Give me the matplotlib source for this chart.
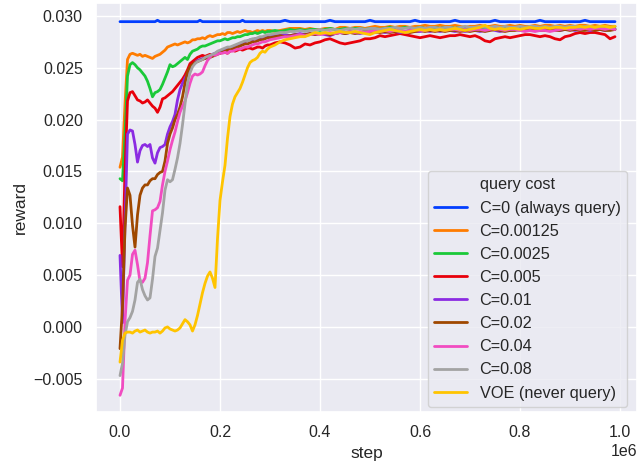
import numpy as np
import matplotlib
matplotlib.use("Agg")
import matplotlib.pyplot as plt
import seaborn as sns
from matplotlib.lines import Line2D

# steps: fine resolution for the first 0.3M steps, coarser afterwards
steps = np.concatenate([np.arange(0, 300000, 5000), np.arange(300000, 1000000, 10000)])

labels = ["C=0 (always query)", "C=0.00125", "C=0.0025", "C=0.005", "C=0.01",
          "C=0.02", "C=0.04", "C=0.08", "VOE (never query)"]
legend_title = "query cost"

c0 = [
    0.02945, 0.02945, 0.02945, 0.02945, 0.02945, 0.02945, 0.02945, 0.02945, 0.02945, 0.02945,
    0.02945, 0.02945, 0.02945, 0.02945, 0.02945, 0.02958, 0.02945, 0.02945, 0.02945, 0.02945,
    0.02945, 0.02945, 0.02945, 0.02945, 0.02945, 0.02945, 0.02945, 0.02945, 0.02945, 0.02945,
    0.02945, 0.02945, 0.02958, 0.02945, 0.02945, 0.02945, 0.02945, 0.02945, 0.02945, 0.02945,
    0.02945, 0.02945, 0.02945, 0.02945, 0.02945, 0.02945, 0.02945, 0.02945, 0.02945, 0.02958,
    0.02945, 0.02945, 0.02945, 0.02945, 0.02945, 0.02945, 0.02945, 0.02945, 0.02945, 0.02945,
    0.02945, 0.02945, 0.02945, 0.02958, 0.02945, 0.02945, 0.02945, 0.02945, 0.02945, 0.02945,
    0.02945, 0.02945, 0.02958, 0.02945, 0.02945, 0.02945, 0.02945, 0.02945, 0.02945, 0.02945,
    0.02958, 0.02945, 0.02945, 0.02945, 0.02945, 0.02945, 0.02945, 0.02945, 0.02945, 0.02958,
    0.02945, 0.02945, 0.02945, 0.02945, 0.02945, 0.02945, 0.02945, 0.02958, 0.02945, 0.02945,
    0.02945, 0.02945, 0.02945, 0.02945, 0.02945, 0.02958, 0.02945, 0.02945, 0.02945, 0.02945,
    0.02945, 0.02945, 0.02945, 0.02945, 0.02958, 0.02945, 0.02945, 0.02945, 0.02945, 0.02945,
    0.02945, 0.02945, 0.02945, 0.02958, 0.02945, 0.02945, 0.02945, 0.02945, 0.02945, 0.02945,
]
c00125 = [
    0.0154, 0.0164, 0.0215, 0.0258, 0.0263, 0.0264, 0.0263, 0.0262, 0.0263, 0.0261,
    0.0262, 0.0261, 0.0260, 0.0259, 0.0261, 0.0262, 0.0263, 0.0265, 0.0267, 0.0270,
    0.0271, 0.0272, 0.0273, 0.0272, 0.0273, 0.0274, 0.0275, 0.0274, 0.0275, 0.0277,
    0.0277, 0.0278, 0.0278, 0.0279, 0.0278, 0.0280, 0.0281, 0.0280, 0.0281, 0.0282,
    0.0282, 0.0283, 0.0282, 0.0284, 0.0284, 0.0283, 0.0284, 0.0285, 0.0284, 0.0285,
    0.0286, 0.0285, 0.0285, 0.0284, 0.0285, 0.0286, 0.0285, 0.0286, 0.0285, 0.0286,
    0.0286, 0.0285, 0.0286, 0.0287, 0.0288, 0.0288, 0.0288, 0.0287, 0.0288, 0.0287,
    0.0287, 0.0288, 0.0288, 0.0287, 0.0289, 0.0289, 0.0288, 0.0289, 0.0289, 0.0288,
    0.0289, 0.0290, 0.0289, 0.0289, 0.0290, 0.0289, 0.0290, 0.0290, 0.0289, 0.0290,
    0.0290, 0.0291, 0.0290, 0.0290, 0.0291, 0.0290, 0.0290, 0.0291, 0.0290, 0.0289,
    0.0290, 0.0290, 0.0291, 0.0290, 0.0290, 0.0291, 0.0290, 0.0290, 0.0291, 0.0290,
    0.0291, 0.0290, 0.0290, 0.0291, 0.0290, 0.0291, 0.0291, 0.0290, 0.0291, 0.0290,
    0.0291, 0.0290, 0.0291, 0.0291, 0.0290, 0.0291, 0.0290, 0.0291, 0.0290, 0.0290,
]
c0025 = [
    0.0143, 0.0141, 0.0185, 0.0242, 0.0253, 0.0255, 0.0253, 0.0250, 0.0248, 0.0245,
    0.0242, 0.0237, 0.0230, 0.0222, 0.0226, 0.0227, 0.0229, 0.0234, 0.0240, 0.0246,
    0.0253, 0.0251, 0.0252, 0.0254, 0.0256, 0.0258, 0.0260, 0.0258, 0.0263, 0.0266,
    0.0267, 0.0268, 0.0270, 0.0271, 0.0271, 0.0272, 0.0273, 0.0274, 0.0275, 0.0276,
    0.0276, 0.0277, 0.0278, 0.0277, 0.0278, 0.0279, 0.0279, 0.0280, 0.0280, 0.0281,
    0.0282, 0.0282, 0.0283, 0.0283, 0.0284, 0.0283, 0.0284, 0.0285, 0.0284, 0.0285,
    0.0285, 0.0286, 0.0285, 0.0286, 0.0287, 0.0286, 0.0287, 0.0286, 0.0287, 0.0287,
    0.0286, 0.0287, 0.0288, 0.0287, 0.0287, 0.0288, 0.0287, 0.0288, 0.0288, 0.0287,
    0.0288, 0.0288, 0.0287, 0.0288, 0.0289, 0.0288, 0.0288, 0.0289, 0.0288, 0.0288,
    0.0289, 0.0288, 0.0288, 0.0289, 0.0288, 0.0289, 0.0289, 0.0288, 0.0289, 0.0288,
    0.0288, 0.0289, 0.0288, 0.0287, 0.0288, 0.0289, 0.0288, 0.0289, 0.0288, 0.0289,
    0.0288, 0.0289, 0.0289, 0.0288, 0.0289, 0.0288, 0.0289, 0.0288, 0.0287, 0.0288,
    0.0289, 0.0288, 0.0289, 0.0288, 0.0289, 0.0288, 0.0289, 0.0288, 0.0287, 0.0288,
]
c005 = [
    0.0116, 0.0058, 0.0150, 0.0218, 0.0226, 0.0227, 0.0223, 0.0219, 0.0218, 0.0216,
    0.0217, 0.0219, 0.0216, 0.0213, 0.0211, 0.0207, 0.0212, 0.0220, 0.0221, 0.0223,
    0.0225, 0.0227, 0.0230, 0.0233, 0.0236, 0.0239, 0.0243, 0.0248, 0.0254, 0.0256,
    0.0258, 0.0260, 0.0261, 0.0262, 0.0261, 0.0262, 0.0263, 0.0262, 0.0263, 0.0264,
    0.0264, 0.0265, 0.0265, 0.0264, 0.0266, 0.0267, 0.0266, 0.0267, 0.0268, 0.0267,
    0.0268, 0.0269, 0.0269, 0.0268, 0.0269, 0.0270, 0.0270, 0.0269, 0.0271, 0.0272,
    0.0272, 0.0274, 0.0275, 0.0274, 0.0272, 0.0269, 0.0270, 0.0273, 0.0272, 0.0274,
    0.0275, 0.0277, 0.0278, 0.0276, 0.0274, 0.0273, 0.0274, 0.0275, 0.0276, 0.0278,
    0.0278, 0.0279, 0.0281, 0.0280, 0.0281, 0.0282, 0.0283, 0.0282, 0.0281, 0.0280,
    0.0279, 0.0280, 0.0281, 0.0280, 0.0279, 0.0280, 0.0281, 0.0281, 0.0282, 0.0281,
    0.0280, 0.0281, 0.0279, 0.0276, 0.0275, 0.0278, 0.0279, 0.0280, 0.0279, 0.0280,
    0.0281, 0.0282, 0.0282, 0.0281, 0.0280, 0.0281, 0.0280, 0.0278, 0.0277, 0.0280,
    0.0281, 0.0283, 0.0284, 0.0283, 0.0284, 0.0284, 0.0283, 0.0282, 0.0278, 0.0280,
]
c001 = [
    0.0069, 0.0004, 0.0100, 0.0186, 0.0190, 0.0189, 0.0176, 0.0159, 0.0170, 0.0175,
    0.0176, 0.0174, 0.0176, 0.0163, 0.0158, 0.0168, 0.0173, 0.0174, 0.0176, 0.0186,
    0.0193, 0.0198, 0.0205, 0.0219, 0.0229, 0.0235, 0.0240, 0.0244, 0.0248, 0.0252,
    0.0255, 0.0257, 0.0258, 0.0259, 0.0259, 0.0260, 0.0261, 0.0263, 0.0264, 0.0265,
    0.0266, 0.0267, 0.0268, 0.0268, 0.0269, 0.0270, 0.0271, 0.0272, 0.0273, 0.0274,
    0.0275, 0.0276, 0.0277, 0.0277, 0.0278, 0.0278, 0.0279, 0.0279, 0.0280, 0.0280,
    0.0280, 0.0281, 0.0281, 0.0282, 0.0281, 0.0282, 0.0283, 0.0282, 0.0283, 0.0282,
    0.0283, 0.0282, 0.0281, 0.0283, 0.0284, 0.0283, 0.0284, 0.0284, 0.0283, 0.0284,
    0.0285, 0.0284, 0.0285, 0.0284, 0.0285, 0.0285, 0.0284, 0.0285, 0.0286, 0.0285,
    0.0285, 0.0286, 0.0285, 0.0286, 0.0285, 0.0286, 0.0286, 0.0285, 0.0286, 0.0285,
    0.0286, 0.0286, 0.0285, 0.0286, 0.0287, 0.0286, 0.0285, 0.0286, 0.0286, 0.0287,
    0.0286, 0.0286, 0.0287, 0.0286, 0.0286, 0.0287, 0.0286, 0.0287, 0.0286, 0.0287,
    0.0287, 0.0286, 0.0287, 0.0287, 0.0286, 0.0287, 0.0287, 0.0286, 0.0287, 0.0287,
]
c002 = [
    -0.0021, 0.0020, 0.0095, 0.0134, 0.0127, 0.0098, 0.0077, 0.0108, 0.0127, 0.0134,
    0.0137, 0.0137, 0.0141, 0.0143, 0.0143, 0.0147, 0.0149, 0.0150, 0.0160, 0.0177,
    0.0186, 0.0192, 0.0200, 0.0205, 0.0212, 0.0222, 0.0235, 0.0246, 0.0251, 0.0253,
    0.0255, 0.0256, 0.0257, 0.0258, 0.0259, 0.0260, 0.0260, 0.0261, 0.0262, 0.0263,
    0.0264, 0.0265, 0.0266, 0.0267, 0.0268, 0.0268, 0.0269, 0.0270, 0.0271, 0.0272,
    0.0273, 0.0273, 0.0274, 0.0275, 0.0275, 0.0276, 0.0277, 0.0277, 0.0278, 0.0279,
    0.0279, 0.0280, 0.0281, 0.0280, 0.0281, 0.0282, 0.0281, 0.0282, 0.0283, 0.0282,
    0.0283, 0.0283, 0.0282, 0.0283, 0.0284, 0.0283, 0.0284, 0.0283, 0.0284, 0.0285,
    0.0284, 0.0285, 0.0284, 0.0285, 0.0284, 0.0285, 0.0286, 0.0285, 0.0284, 0.0285,
    0.0286, 0.0285, 0.0286, 0.0285, 0.0286, 0.0285, 0.0286, 0.0286, 0.0285, 0.0286,
    0.0285, 0.0286, 0.0286, 0.0285, 0.0286, 0.0287, 0.0286, 0.0285, 0.0286, 0.0286,
    0.0287, 0.0286, 0.0286, 0.0287, 0.0286, 0.0286, 0.0287, 0.0286, 0.0286, 0.0287,
    0.0286, 0.0287, 0.0286, 0.0286, 0.0287, 0.0286, 0.0287, 0.0286, 0.0286, 0.0287,
]
c004 = [
    -0.0066, -0.0059, 0.0005, 0.0045, 0.0050, 0.0070, 0.0074, 0.0060, 0.0044, 0.0043,
    0.0047, 0.0062, 0.0088, 0.0112, 0.0113, 0.0115, 0.0121, 0.0137, 0.0150, 0.0160,
    0.0171, 0.0180, 0.0188, 0.0198, 0.0207, 0.0213, 0.0218, 0.0226, 0.0235, 0.0242,
    0.0244, 0.0243, 0.0244, 0.0246, 0.0252, 0.0257, 0.0260, 0.0263, 0.0262, 0.0263,
    0.0264, 0.0264, 0.0265, 0.0264, 0.0266, 0.0266, 0.0267, 0.0268, 0.0268, 0.0269,
    0.0270, 0.0270, 0.0271, 0.0272, 0.0273, 0.0273, 0.0274, 0.0275, 0.0275, 0.0276,
    0.0277, 0.0278, 0.0279, 0.0280, 0.0280, 0.0281, 0.0282, 0.0281, 0.0282, 0.0283,
    0.0282, 0.0283, 0.0284, 0.0283, 0.0284, 0.0284, 0.0285, 0.0284, 0.0285, 0.0284,
    0.0285, 0.0286, 0.0285, 0.0286, 0.0285, 0.0286, 0.0286, 0.0285, 0.0286, 0.0287,
    0.0286, 0.0286, 0.0287, 0.0286, 0.0287, 0.0286, 0.0287, 0.0287, 0.0286, 0.0287,
    0.0286, 0.0287, 0.0287, 0.0286, 0.0287, 0.0288, 0.0287, 0.0286, 0.0287, 0.0287,
    0.0286, 0.0285, 0.0286, 0.0285, 0.0286, 0.0286, 0.0285, 0.0286, 0.0287, 0.0288,
    0.0287, 0.0288, 0.0287, 0.0288, 0.0287, 0.0288, 0.0288, 0.0287, 0.0288, 0.0287,
]
c008 = [
    -0.0047, -0.0035, -0.0008, 0.0005, 0.0009, 0.0015, 0.0026, 0.0043, 0.0046, 0.0036,
    0.0030, 0.0026, 0.0028, 0.0046, 0.0068, 0.0076, 0.0093, 0.0110, 0.0132, 0.0142,
    0.0140, 0.0142, 0.0152, 0.0163, 0.0177, 0.0195, 0.0215, 0.0235, 0.0245, 0.0251,
    0.0254, 0.0256, 0.0257, 0.0258, 0.0260, 0.0261, 0.0262, 0.0263, 0.0264, 0.0266,
    0.0267, 0.0268, 0.0269, 0.0270, 0.0270, 0.0271, 0.0272, 0.0273, 0.0274, 0.0275,
    0.0276, 0.0276, 0.0277, 0.0278, 0.0278, 0.0279, 0.0280, 0.0280, 0.0281, 0.0282,
    0.0282, 0.0283, 0.0284, 0.0284, 0.0285, 0.0285, 0.0286, 0.0285, 0.0286, 0.0286,
    0.0287, 0.0286, 0.0287, 0.0287, 0.0286, 0.0287, 0.0288, 0.0287, 0.0288, 0.0287,
    0.0288, 0.0288, 0.0287, 0.0288, 0.0288, 0.0289, 0.0288, 0.0288, 0.0289, 0.0288,
    0.0289, 0.0288, 0.0289, 0.0289, 0.0288, 0.0289, 0.0289, 0.0288, 0.0289, 0.0290,
    0.0289, 0.0289, 0.0290, 0.0289, 0.0289, 0.0290, 0.0289, 0.0290, 0.0289, 0.0289,
    0.0290, 0.0289, 0.0290, 0.0290, 0.0289, 0.0290, 0.0289, 0.0290, 0.0290, 0.0289,
    0.0290, 0.0290, 0.0289, 0.0290, 0.0290, 0.0289, 0.0290, 0.0290, 0.0289, 0.0290,
]
voe = [
    -0.0034, -0.0013, -0.0006, -0.0005, -0.0005, -0.0006, -0.0004, -0.0003, -0.0005, -0.0004,
    -0.0003, -0.0005, -0.0006, -0.0005, -0.0005, -0.0004, -0.0006, -0.0004, -0.0001, 0.0000,
    -0.0002, -0.0003, -0.0004, -0.0003, -0.0001, 0.0003, 0.0007, 0.0005, 0.0002, -0.0004,
    0.0002, 0.0011, 0.0022, 0.0033, 0.0042, 0.0049, 0.0053, 0.0047, 0.0038, 0.0085,
    0.0122, 0.0140, 0.0156, 0.0182, 0.0203, 0.0215, 0.0222, 0.0226, 0.0230, 0.0236,
    0.0243, 0.0250, 0.0255, 0.0257, 0.0258, 0.0260, 0.0264, 0.0266, 0.0265, 0.0268,
    0.0270, 0.0272, 0.0275, 0.0277, 0.0278, 0.0279, 0.0280, 0.0280, 0.0282, 0.0284,
    0.0283, 0.0284, 0.0283, 0.0284, 0.0285, 0.0284, 0.0284, 0.0285, 0.0284, 0.0283,
    0.0282, 0.0284, 0.0285, 0.0286, 0.0287, 0.0286, 0.0285, 0.0284, 0.0285, 0.0286,
    0.0287, 0.0286, 0.0287, 0.0286, 0.0287, 0.0286, 0.0287, 0.0288, 0.0287, 0.0286,
    0.0287, 0.0288, 0.0289, 0.0291, 0.0288, 0.0287, 0.0288, 0.0287, 0.0288, 0.0288,
    0.0287, 0.0288, 0.0289, 0.0288, 0.0288, 0.0289, 0.0288, 0.0289, 0.0289, 0.0288,
    0.0289, 0.0289, 0.0290, 0.0289, 0.0290, 0.0289, 0.0290, 0.0290, 0.0289, 0.0290,
]

series = [c0, c00125, c0025, c005, c001, c002, c004, c008, voe]

sns.set_theme(style="darkgrid")
plt.rcParams["font.family"] = ["Liberation Sans", "DejaVu Sans"]
palette = sns.color_palette("bright", 9)

fig = plt.figure(figsize=(6.37, 4.67), dpi=100)
ax = fig.add_axes([96 / 637, 55 / 467, 541 / 637, 409 / 467])

for vals, lab, col in zip(series, labels, palette):
    ax.plot(steps, vals, color=col, lw=2.0, label=lab)

ax.set_xlim(-48000, 1034000)
ax.set_ylim(-0.00821, 0.03125)
ax.set_xticks([0, 200000, 400000, 600000, 800000, 1000000])
ax.set_yticks([-0.005, 0.0, 0.005, 0.010, 0.015, 0.020, 0.025, 0.030])
ax.set_xlabel("step", fontsize=12.5)
ax.set_ylabel("reward", fontsize=12.5)
ax.tick_params(labelsize=11.5)
ax.xaxis.get_offset_text().set_fontsize(11.5)

handles, labs = ax.get_legend_handles_labels()
title_handle = Line2D([], [], color="none")
leg = ax.legend([title_handle] + handles, [legend_title] + labs, fontsize=11.7,
                loc="lower right", bbox_to_anchor=(0.9815, 0.0122), borderaxespad=0)

fig.savefig("out.png", dpi=100)
